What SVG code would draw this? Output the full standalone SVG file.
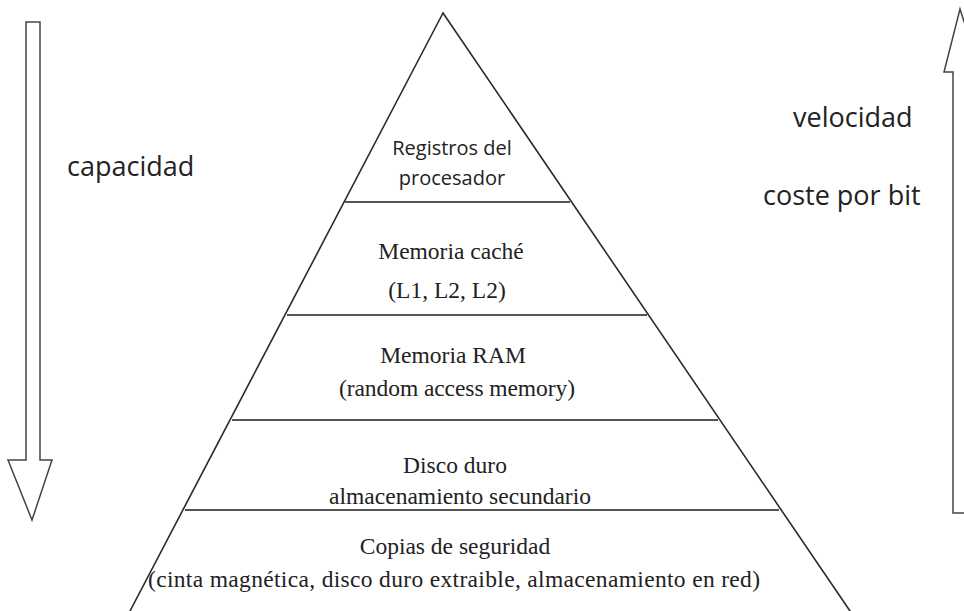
<svg xmlns="http://www.w3.org/2000/svg" width="964" height="611" viewBox="0 0 964 611">
<style>
.edge{fill:none;stroke:#2a2a2a;stroke-width:1.6;stroke-linecap:round}
.div{fill:none;stroke:#555;stroke-width:1.8}
.arrow{fill:#fff;stroke:#444;stroke-width:1.5;stroke-linejoin:miter}
.sans{font-family:"Open Sans","Liberation Sans",sans-serif;fill:#222}
.serif{font-family:"Liberation Serif","DejaVu Serif",serif;fill:#222;text-anchor:middle;font-size:23.5px}
</style>
<rect width="964" height="611" fill="#fff"/>
<g id="connectors">
<polygon id="arrow-capacidad" class="arrow" points="26,22 40,22 40,460 52,460 32,520 8,460 26,460"/>
<polygon id="arrow-velocidad" class="arrow" points="953,513 953,72 944,72 960,9 980,72 970,72 970,513"/>
</g>
<g id="pyramid">
<path class="edge" d="M443,13 L130,611"/>
<path class="edge" d="M443,13 L850,611"/>
<line class="div" x1="345" y1="202" x2="570" y2="202"/>
<line class="div" x1="287" y1="315" x2="647" y2="315"/>
<line class="div" x1="232" y1="420" x2="718" y2="420"/>
<line class="div" x1="185" y1="510" x2="779" y2="510"/>
</g>
<g id="node-registros">
<text class="sans" x="452" y="155" font-size="20" text-anchor="middle">Registros del</text>
<text class="sans" x="452" y="185" font-size="20" text-anchor="middle">procesador</text>
</g>
<g id="node-cache">
<text class="serif" x="451" y="259">Memoria caché</text>
<text class="serif" x="447" y="298">(L1, L2, L2)</text>
</g>
<g id="node-ram">
<text class="serif" x="453" y="363">Memoria RAM</text>
<text class="serif" x="457" y="396" textLength="236">(random access memory)</text>
</g>
<g id="node-disco">
<text class="serif" x="455" y="473">Disco duro</text>
<text class="serif" x="460" y="504" textLength="262">almacenamiento secundario</text>
</g>
<g id="node-copias">
<text class="serif" x="455" y="554">Copias de seguridad</text>
<text class="serif" x="454" y="587" textLength="612">(cinta magnética, disco duro extraible, almacenamiento en red)</text>
</g>
<g id="labels">
<text class="sans" x="67" y="176" font-size="27">capacidad</text>
<text class="sans" x="793" y="127" font-size="27">velocidad</text>
<text class="sans" x="763" y="205" font-size="27">coste por bit</text>
</g>
</svg>
